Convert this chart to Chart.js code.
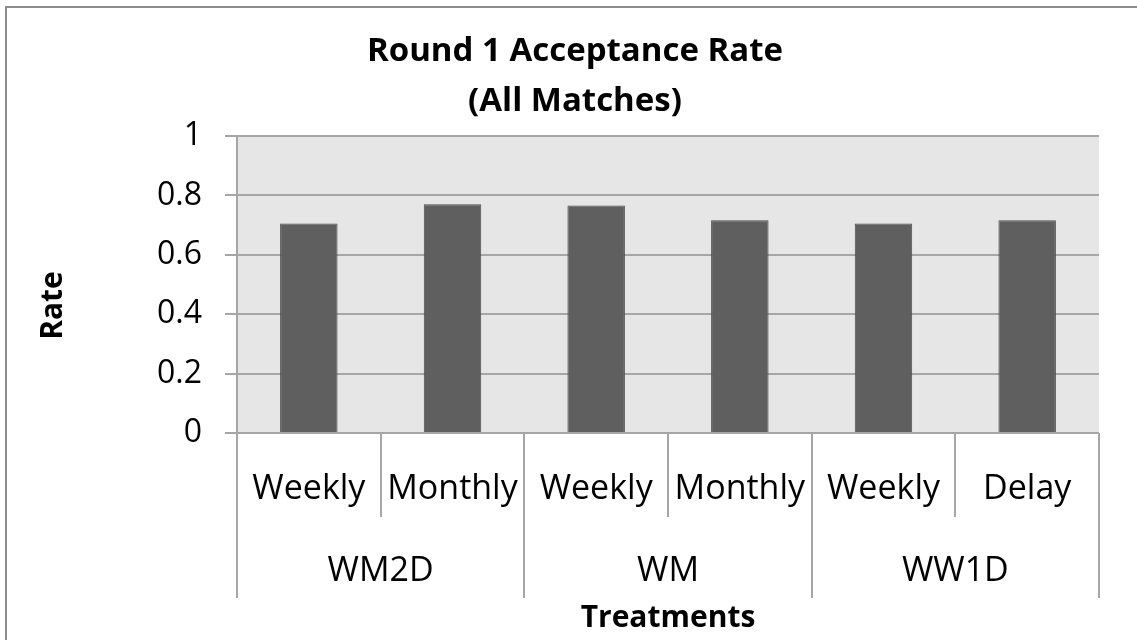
<!DOCTYPE html>
<html>
<head>
<meta charset="utf-8">
<script src="https://cdn.jsdelivr.net/npm/chart.js@4.4.1/dist/chart.umd.min.js"></script>
<style>
  html, body { margin: 0; padding: 0; background: #fff; }
  #wrap { width: 1137px; height: 640px; }
</style>
</head>
<body>
<div id="wrap"><canvas id="chart" width="1137" height="640"></canvas></div>
<script>
const subLabels = ['Weekly', 'Monthly', 'Weekly', 'Monthly', 'Weekly', 'Delay'];
const groupLabels = ['WM2D', 'WM', 'WW1D'];
const groupSizes = [2, 2, 2];
const rates = [0.705, 0.77, 0.766, 0.716, 0.705, 0.716];
const titleLines = ['Round 1 Acceptance Rate', '(All Matches)'];
const yTitle = 'Rate';
const xTitle = 'Treatments';

const FONT = "'Open Sans', 'Noto Sans', sans-serif";
const lineGray = '#a6a6a6';

// excel look: grey plot area, outer frame, two-level category axis, titles
const excelFrame = {
  id: 'excelFrame',
  beforeDraw(chart) {
    const { ctx, chartArea: a } = chart;
    ctx.save();
    ctx.fillStyle = '#ffffff';
    ctx.fillRect(0, 0, chart.width, chart.height);
    ctx.fillStyle = '#e6e6e6';
    ctx.fillRect(a.left, a.top, a.right - a.left, a.bottom - a.top);
    ctx.strokeStyle = '#8c8c8c';
    ctx.lineWidth = 2;
    ctx.beginPath();
    ctx.moveTo(6, chart.height);
    ctx.lineTo(6, 7);
    ctx.lineTo(chart.width, 7);
    ctx.stroke();
    ctx.restore();
  },
  afterDraw(chart) {
    const { ctx, chartArea: a } = chart;
    const x = chart.scales.x;
    const step = x.getPixelForValue(1) - x.getPixelForValue(0);
    const edge = i => x.getPixelForValue(i) - step / 2;

    ctx.save();
    // separators below the axis
    const groupEdges = [0];
    groupSizes.forEach(n => groupEdges.push(groupEdges[groupEdges.length - 1] + n));
    ctx.strokeStyle = lineGray;
    ctx.lineWidth = 2;
    for (let i = 0; i <= subLabels.length; i++) {
      const px = Math.round(edge(i));
      const long = groupEdges.includes(i);
      ctx.beginPath();
      ctx.moveTo(px, a.bottom);
      ctx.lineTo(px, a.bottom + (long ? 165 : 84));
      ctx.stroke();
    }

    ctx.fillStyle = '#000';
    ctx.textAlign = 'center';
    ctx.textBaseline = 'middle';
    ctx.font = `34px ${FONT}`;
    subLabels.forEach((lab, i) => {
      ctx.fillText(lab, x.getPixelForValue(i), a.bottom + 56);
    });
    groupLabels.forEach((lab, g) => {
      const mid = (edge(groupEdges[g]) + edge(groupEdges[g + 1])) / 2;
      ctx.fillText(lab, mid, a.bottom + 138);
    });

    ctx.font = `bold 30px ${FONT}`;
    ctx.fillText(xTitle, (a.left + a.right) / 2, a.bottom + 185);

    ctx.save();
    ctx.translate(53, (a.top + a.bottom) / 2 + 21);
    ctx.rotate(-Math.PI / 2);
    ctx.fillText(yTitle, 0, 0);
    ctx.restore();

    ctx.font = `bold 33px ${FONT}`;
    titleLines.forEach((t, i) => {
      ctx.fillText(t, 575, 52 + i * 50);
    });
    ctx.restore();
  }
};

new Chart(document.getElementById('chart'), {
  type: 'bar',
  data: {
    labels: subLabels,
    datasets: [{
      data: rates,
      backgroundColor: '#5f5f5f',
      borderColor: '#4d4d4d',
      borderWidth: 1,
      barPercentage: 0.4,
      categoryPercentage: 1.0
    }]
  },
  options: {
    responsive: false,
    devicePixelRatio: 1,
    animation: false,
    layout: { padding: { top: 136, left: 0, right: 38, bottom: 207 } },
    plugins: {
      legend: { display: false },
      tooltip: { enabled: false },
      title: { display: false }
    },
    scales: {
      x: { display: false },
      y: {
        min: 0,
        max: 1,
        afterFit: s => { s.width = 237; },
        ticks: {
          stepSize: 0.2,
          padding: 23,
          color: '#000',
          font: { family: FONT, size: 32 },
          callback: v => String(Math.round(v * 10) / 10)
        },
        grid: { color: lineGray, lineWidth: 2, tickLength: 12 },
        border: { color: lineGray, width: 2 }
      }
    }
  },
  plugins: [excelFrame]
});
</script>
</body>
</html>
